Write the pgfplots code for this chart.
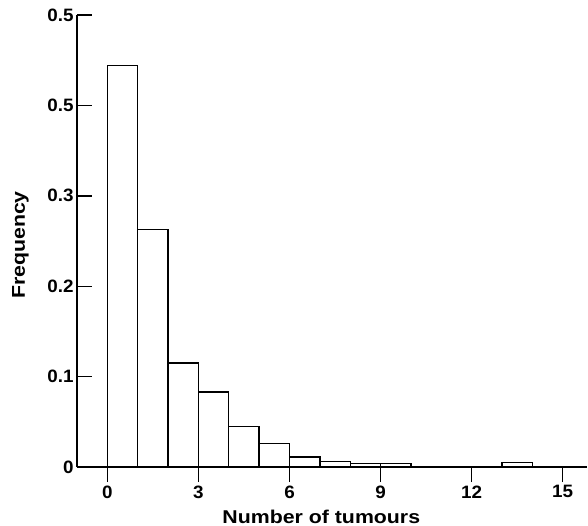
\documentclass[border=0pt]{standalone}
\usepackage{fontspec}
\setmainfont{Liberation Sans}
\newfontfamily\tickfont{Liberation Sans Bold}[FakeStretch=1.05]
\newfontfamily\labelfont{Liberation Sans Bold}[FakeStretch=1.15]
\usepackage{pgfplots}
\pgfplotsset{compat=1.18}
\begin{document}
\begin{tikzpicture}
\useasboundingbox (-77bp,-59bp) rectangle (511bp,467bp);
\begin{axis}[
  scale only axis,
  width=510bp, height=452bp,
  xmin=-1, xmax=15.8,
  ymin=0, ymax=0.5,
  axis x line=bottom, axis y line=left,
  axis line style={-, line width=1.4bp},
  xtick={0,3,6,9,12,15},
  xticklabels={0,3,6,9,12,15},
  ytick={0,0.1,0.2,0.3,0.4,0.5},
  yticklabels={0,0.1,0.2,0.3,0.5,0.5},
  xtick align=outside,
  ytick align=inside,
  major tick length=15bp,
  tick style={line width=1.4bp, black},
  ticklabel style={font=\tickfont\fontsize{18}{18}\selectfont},
  xlabel={Number of tumours},
  ylabel={Frequency},
  x label style={at={(axis description cs:0.479,-0.1245)}, anchor=base, font=\labelfont\fontsize{18.6}{18.6}\selectfont},
  y label style={at={(axis description cs:-0.102,0.491)}, anchor=base, rotate=0, font=\labelfont\fontsize{18.6}{18.6}\selectfont},
  clip=false,
]
\addplot[ybar interval, fill=white, draw=black, line width=1.4bp] coordinates {
  (0,0.444) (1,0.263) (2,0.115) (3,0.083) (4,0.045) (5,0.026) (6,0.011)
  (7,0.006) (8,0.004) (9,0.004) (10,0) (11,0) (12,0) (13,0.005) (14,0)
};
\end{axis}
\end{tikzpicture}
\end{document}
